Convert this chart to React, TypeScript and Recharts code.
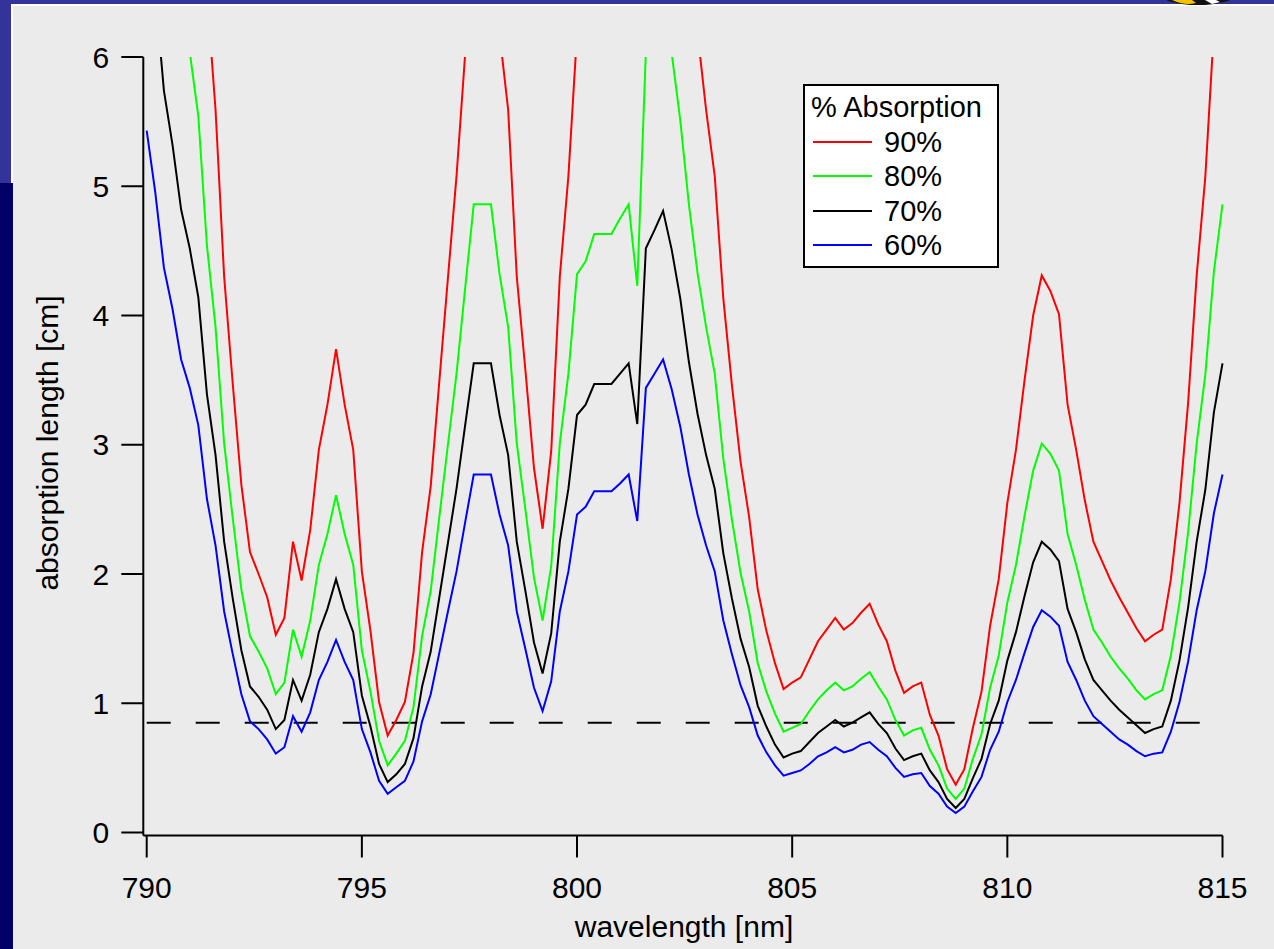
import { LineChart, Line, XAxis, YAxis, ReferenceLine } from 'recharts';

// wavelength grid [nm]
const wavelength = [
  790, 790.2, 790.4, 790.6, 790.8, 791, 791.2, 791.4, 791.6, 791.8,
  792, 792.2, 792.4, 792.6, 792.8, 793, 793.2, 793.4, 793.6, 793.8,
  794, 794.2, 794.4, 794.6, 794.8, 795, 795.2, 795.4, 795.6, 795.8,
  796, 796.2, 796.4, 796.6, 796.8, 797, 797.2, 797.4, 797.6, 797.8,
  798, 798.2, 798.4, 798.6, 798.8, 799, 799.2, 799.4, 799.6, 799.8,
  800, 800.2, 800.4, 800.6, 800.8, 801, 801.2, 801.4, 801.6, 801.8,
  802, 802.2, 802.4, 802.6, 802.8, 803, 803.2, 803.4, 803.6, 803.8,
  804, 804.2, 804.4, 804.6, 804.8, 805, 805.2, 805.4, 805.6, 805.8,
  806, 806.2, 806.4, 806.6, 806.8, 807, 807.2, 807.4, 807.6, 807.8,
  808, 808.2, 808.4, 808.6, 808.8, 809, 809.2, 809.4, 809.6, 809.8,
  810, 810.2, 810.4, 810.6, 810.8, 811, 811.2, 811.4, 811.6, 811.8,
  812, 812.2, 812.4, 812.6, 812.8, 813, 813.2, 813.4, 813.6, 813.8,
  814, 814.2, 814.4, 814.6, 814.8, 815,
];

// absorption length [cm] for 90 / 80 / 70 / 60 % absorption
const abs90 = [
  13.64, 12.44, 10.98, 10.18, 9.21, 8.64, 7.92, 6.49, 5.59, 4.30,
  3.47, 2.69, 2.17, 2.00, 1.82, 1.53, 1.66, 2.25, 1.95, 2.34,
  2.96, 3.31, 3.74, 3.31, 2.96, 2.02, 1.56, 1.01, 0.75, 0.87,
  1.01, 1.39, 2.17, 2.68, 3.49, 4.29, 5.08, 6.02, 6.95, 6.95,
  6.95, 6.18, 5.59, 4.30, 3.58, 2.82, 2.35, 2.95, 4.30, 5.08,
  6.18, 6.33, 6.63, 6.63, 6.63, 6.79, 6.95, 6.05, 8.64, 8.92,
  9.20, 8.62, 7.89, 6.96, 6.19, 5.59, 5.08, 4.13, 3.46, 2.87,
  2.44, 1.88, 1.56, 1.31, 1.11, 1.16, 1.20, 1.34, 1.48, 1.57,
  1.66, 1.57, 1.62, 1.70, 1.77, 1.61, 1.48, 1.25, 1.08, 1.13,
  1.16, 0.91, 0.75, 0.49, 0.37, 0.49, 0.81, 1.09, 1.60, 1.96,
  2.55, 2.96, 3.50, 4.00, 4.31, 4.19, 4.01, 3.31, 2.96, 2.57,
  2.25, 2.10, 1.95, 1.82, 1.70, 1.58, 1.48, 1.53, 1.57, 1.96,
  2.55, 3.32, 4.31, 5.07, 6.21, 6.95,
];

const abs80 = [
  9.53, 8.70, 7.67, 7.12, 6.44, 6.04, 5.54, 4.54, 3.91, 3.01,
  2.43, 1.88, 1.52, 1.40, 1.27, 1.07, 1.16, 1.57, 1.36, 1.64,
  2.07, 2.31, 2.61, 2.31, 2.07, 1.41, 1.09, 0.71, 0.52, 0.61,
  0.71, 0.97, 1.52, 1.87, 2.44, 3.00, 3.55, 4.21, 4.86, 4.86,
  4.86, 4.32, 3.91, 3.01, 2.50, 1.97, 1.64, 2.06, 3.01, 3.55,
  4.32, 4.42, 4.63, 4.63, 4.63, 4.75, 4.86, 4.23, 6.04, 6.23,
  6.43, 6.03, 5.51, 4.86, 4.33, 3.91, 3.55, 2.89, 2.42, 2.01,
  1.71, 1.31, 1.09, 0.92, 0.78, 0.81, 0.84, 0.94, 1.03, 1.10,
  1.16, 1.10, 1.13, 1.19, 1.24, 1.13, 1.03, 0.87, 0.75, 0.79,
  0.81, 0.64, 0.52, 0.34, 0.26, 0.34, 0.57, 0.76, 1.12, 1.37,
  1.78, 2.07, 2.45, 2.80, 3.01, 2.93, 2.80, 2.31, 2.07, 1.80,
  1.57, 1.47, 1.36, 1.27, 1.19, 1.10, 1.03, 1.07, 1.10, 1.37,
  1.78, 2.32, 3.01, 3.54, 4.34, 4.86,
];

const abs70 = [
  7.13, 6.50, 5.74, 5.32, 4.82, 4.52, 4.14, 3.39, 2.92, 2.25,
  1.81, 1.41, 1.13, 1.05, 0.95, 0.80, 0.87, 1.18, 1.02, 1.22,
  1.55, 1.73, 1.96, 1.73, 1.55, 1.06, 0.82, 0.53, 0.39, 0.45,
  0.53, 0.73, 1.13, 1.40, 1.82, 2.24, 2.66, 3.15, 3.63, 3.63,
  3.63, 3.23, 2.92, 2.25, 1.87, 1.47, 1.23, 1.54, 2.25, 2.66,
  3.23, 3.31, 3.47, 3.47, 3.47, 3.55, 3.63, 3.16, 4.52, 4.66,
  4.81, 4.51, 4.13, 3.64, 3.24, 2.92, 2.66, 2.16, 1.81, 1.50,
  1.28, 0.98, 0.82, 0.68, 0.58, 0.61, 0.63, 0.70, 0.77, 0.82,
  0.87, 0.82, 0.85, 0.89, 0.93, 0.84, 0.77, 0.65, 0.56, 0.59,
  0.61, 0.48, 0.39, 0.26, 0.19, 0.26, 0.42, 0.57, 0.84, 1.02,
  1.33, 1.55, 1.83, 2.09, 2.25, 2.19, 2.10, 1.73, 1.55, 1.34,
  1.18, 1.10, 1.02, 0.95, 0.89, 0.83, 0.77, 0.80, 0.82, 1.02,
  1.33, 1.74, 2.25, 2.65, 3.25, 3.63,
];

const abs60 = [
  5.43, 4.95, 4.37, 4.05, 3.66, 3.44, 3.15, 2.58, 2.22, 1.71,
  1.38, 1.07, 0.86, 0.80, 0.72, 0.61, 0.66, 0.90, 0.78, 0.93,
  1.18, 1.32, 1.49, 1.32, 1.18, 0.80, 0.62, 0.40, 0.30, 0.35,
  0.40, 0.55, 0.86, 1.07, 1.39, 1.71, 2.02, 2.40, 2.77, 2.77,
  2.77, 2.46, 2.22, 1.71, 1.42, 1.12, 0.94, 1.17, 1.71, 2.02,
  2.46, 2.52, 2.64, 2.64, 2.64, 2.70, 2.77, 2.41, 3.44, 3.55,
  3.66, 3.43, 3.14, 2.77, 2.46, 2.22, 2.02, 1.64, 1.38, 1.14,
  0.97, 0.75, 0.62, 0.52, 0.44, 0.46, 0.48, 0.53, 0.59, 0.62,
  0.66, 0.62, 0.64, 0.68, 0.70, 0.64, 0.59, 0.50, 0.43, 0.45,
  0.46, 0.36, 0.30, 0.20, 0.15, 0.20, 0.32, 0.43, 0.64, 0.78,
  1.01, 1.18, 1.39, 1.59, 1.72, 1.67, 1.60, 1.32, 1.18, 1.02,
  0.90, 0.84, 0.78, 0.72, 0.68, 0.63, 0.59, 0.61, 0.62, 0.78,
  1.01, 1.32, 1.72, 2.02, 2.47, 2.77,
];

const xTicks = [790, 795, 800, 805, 810, 815];
const yTicks = [0, 1, 2, 3, 4, 5, 6];
const threshold = 0.85;

const series = [
  { key: 'a90', label: '90%', color: '#ff0000' },
  { key: 'a80', label: '80%', color: '#00ff00' },
  { key: 'a70', label: '70%', color: '#000000' },
  { key: 'a60', label: '60%', color: '#0000ff' },
];

const data = wavelength.map((w, i) => ({
  w,
  a90: abs90[i],
  a80: abs80[i],
  a70: abs70[i],
  a60: abs60[i],
}));

const FONT = '"Liberation Sans", Arial, Helvetica, sans-serif';
const tickStyle = { fill: '#000', fontSize: 30, fontFamily: FONT };

function LegendBox() {
  return (
    <div
      style={{
        position: 'absolute',
        left: 803,
        top: 84,
        width: 196,
        height: 184,
        boxSizing: 'border-box',
        border: '2px solid #000',
        background: '#fff',
        fontFamily: FONT,
        fontSize: 29,
        color: '#000',
      }}
    >
      <div style={{ position: 'absolute', left: 6, top: 4, lineHeight: '34px', whiteSpace: 'nowrap' }}>
        % Absorption
      </div>
      {series.map((s, i) => (
        <div key={s.key} style={{ position: 'absolute', left: 8, top: 39 + i * 34.3, height: 34, width: 180 }}>
          <svg width={60} height={34} style={{ position: 'absolute', left: 0, top: 0 }}>
            <line x1={0} x2={59} y1={17} y2={17} stroke={s.color} strokeWidth={2} />
          </svg>
          <span style={{ position: 'absolute', left: 71, top: 0, lineHeight: '34px' }}>{s.label}</span>
        </div>
      ))}
    </div>
  );
}

export default function App() {
  return (
    <div
      style={{
        position: 'fixed',
        left: 0,
        top: 0,
        width: 1274,
        height: 949,
        overflow: 'hidden',
        background: '#000066',
      }}
    >
      <div style={{ position: 'absolute', left: 0, top: 0, width: 1274, height: 183, background: '#333399' }} />
      <div style={{ position: 'absolute', left: 11, top: 4, width: 1263, height: 2, background: '#fff' }} />
      <div style={{ position: 'absolute', left: 11, top: 4, width: 2, height: 179, background: '#fff' }} />
      <div style={{ position: 'absolute', left: 13, top: 6, right: 0, bottom: 0, background: '#ebebeb' }} />
      <svg width={1274} height={10} style={{ position: 'absolute', left: 0, top: 0 }}>
        <ellipse cx={1198} cy={-6} rx={38} ry={11} fill="#111" />
        <path d="M1172 0 Q1185 6 1196 3 L1192 0 Z" fill="#f2c200" />
        <path d="M1205 0 L1212 4 L1220 2 L1216 0 Z" fill="#fff" />
      </svg>

      <div style={{ position: 'absolute', left: 0, top: 0 }}>
        <LineChart
          width={1274}
          height={949}
          data={data}
          margin={{ top: 57, right: 51.5, bottom: 53.5, left: 43.3 }}
        >
          <XAxis
            dataKey="w"
            type="number"
            domain={[790, 815]}
            ticks={xTicks}
            interval={0}
            padding={{ left: 3.4, right: 0 }}
            height={60}
            tickSize={22}
            tickMargin={19}
            tick={tickStyle}
            axisLine={{ stroke: '#000', strokeWidth: 2 }}
            tickLine={{ stroke: '#000', strokeWidth: 2 }}
          />
          <YAxis
            type="number"
            domain={[0, 6]}
            ticks={yTicks}
            interval={0}
            allowDataOverflow
            padding={{ top: 0, bottom: 3 }}
            width={100}
            tickSize={22}
            tickMargin={12}
            tick={tickStyle}
            axisLine={{ stroke: '#000', strokeWidth: 2 }}
            tickLine={{ stroke: '#000', strokeWidth: 2 }}
          />
          <ReferenceLine
            segment={[
              { x: 790, y: threshold },
              { x: 815, y: threshold },
            ]}
            stroke="#000"
            strokeWidth={2}
            strokeDasharray="24 25"
          />
          {series.map((s) => (
            <Line
              key={s.key}
              type="linear"
              dataKey={s.key}
              stroke={s.color}
              strokeWidth={2}
              dot={false}
              isAnimationActive={false}
            />
          ))}
        </LineChart>
      </div>

      <svg
        width={1274}
        height={949}
        style={{ position: 'absolute', left: 0, top: 0, pointerEvents: 'none' }}
        fontFamily={FONT}
      >
        <text x={684} y={937} textAnchor="middle" fontSize={30} fill="#000">
          wavelength [nm]
        </text>
        <text transform="translate(58,443) rotate(-90)" textAnchor="middle" fontSize={30} fill="#000">
          absorption length [cm]
        </text>
      </svg>

      <LegendBox />
    </div>
  );
}
